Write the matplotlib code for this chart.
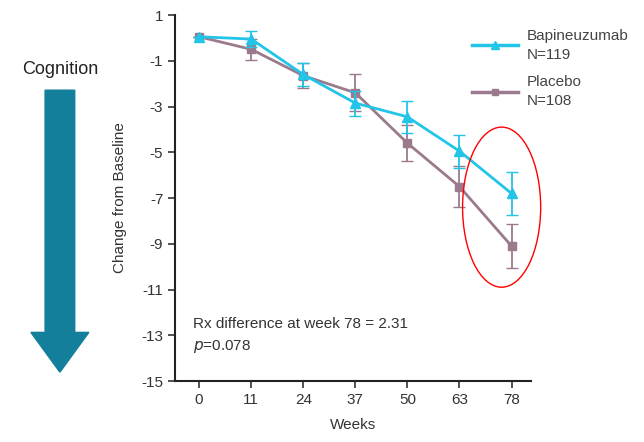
import matplotlib
matplotlib.use('Agg')
import matplotlib.pyplot as plt
from matplotlib.patches import Ellipse, FancyArrow
from matplotlib.lines import Line2D

plt.rcParams['font.family'] = ['Liberation Sans', 'DejaVu Sans']

semanas = ['0', '11', '24', '37', '50', '63', '78']
bapi = [0.05, -0.05, -1.6, -2.85, -3.45, -4.95, -6.8]
bapi_err = [0.0, 0.35, 0.5, 0.55, 0.7, 0.72, 0.95]
placebo = [0.05, -0.5, -1.65, -2.4, -4.6, -6.5, -9.1]
placebo_err = [0.0, 0.45, 0.55, 0.8, 0.8, 0.9, 0.95]

yticks = [1, -1, -3, -5, -7, -9, -11, -13, -15]

cyan = '#22c4e8'
malva = '#9a7a8c'

fig = plt.figure(figsize=(6.44, 4.42), dpi=100)
ax = fig.add_axes([0.272, 0.138, 0.553, 0.828])

x = list(range(len(semanas)))
ax.errorbar(x, placebo, yerr=placebo_err, color=malva, marker='s', markersize=6,
            linewidth=2, elinewidth=1.3, capsize=4, zorder=3)
ax.errorbar(x, bapi, yerr=bapi_err, color=cyan, marker='^', markersize=7,
            linewidth=2, elinewidth=1.3, capsize=4, zorder=4)

ax.set_xlim(-0.46, 6.38)
ax.set_ylim(-15, 1)
ax.set_xticks(x)
ax.set_xticklabels(semanas)
ax.set_yticks(yticks)
ax.set_yticklabels([str(v) for v in yticks])
ax.tick_params(labelsize=11, colors='#333333', width=1.2, length=5)
for s in ['top', 'right']:
    ax.spines[s].set_visible(False)
for s in ['left', 'bottom']:
    ax.spines[s].set_linewidth(1.5)
    ax.spines[s].set_color('#222222')

ax.set_xlabel('Weeks', fontsize=11, color='#333333', labelpad=8)
ax.set_ylabel('Change from Baseline', fontsize=11, color='#333333', labelpad=10)

ax.text(-0.12, -12.7, 'Rx difference at week 78 = 2.31', fontsize=11, color='#333333')
ax.text(-0.12, -13.65, r'$\it{p}$=0.078', fontsize=11, color='#333333')

ax.add_patch(Ellipse((5.81, -7.4), 1.5, 7.0, fill=False, edgecolor='red',
                     linewidth=1, zorder=5, clip_on=False))

handles = [Line2D([], [], color=cyan, marker='^', markersize=6, linewidth=2.5),
           Line2D([], [], color=malva, marker='s', markersize=5, linewidth=2.5)]
labels = ['Bapineuzumab\nN=119', 'Placebo\nN=108']
leg = ax.legend(handles, labels, loc='upper left', bbox_to_anchor=(0.795, 1.0),
                frameon=False, fontsize=11, handlelength=3.0, labelspacing=0.9,
                handletextpad=0.55, labelcolor='#444444')
for t in leg.get_texts():
    t.set_linespacing(1.45)

# flecha de cognicion
fig.text(0.093, 0.843, 'Cognition', fontsize=13, ha='center', va='center', color='#222222')
flecha = FancyArrow(0.093, 0.796, 0, -0.638, width=0.046, head_width=0.09,
                    head_length=0.09, length_includes_head=True,
                    color='#137f9b', transform=fig.transFigure)
fig.patches.append(flecha)

fig.savefig('out.png', dpi=100)
